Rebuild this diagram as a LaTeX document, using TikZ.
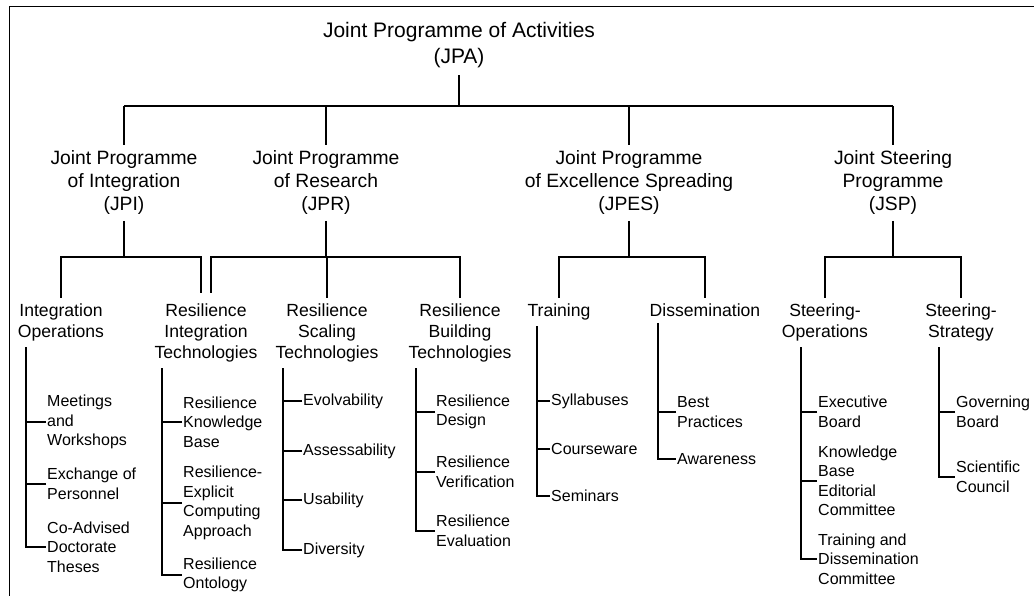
\documentclass[tikz,border=0pt]{standalone}
\usepackage{fontspec}
\setmainfont{Liberation Sans}
\usepackage{tikz}

\tikzset{
  toplabel/.style={align=center, inner sep=0pt, outer ysep=7pt, font=\fontsize{21}{26.5}\selectfont},
  jplabel/.style={align=center, inner sep=0pt, outer ysep=6pt, font=\fontsize{19.3}{23}\selectfont},
  unitlabel/.style={align=center, anchor=north, inner sep=0pt, outer ysep=6pt, font=\fontsize{17.6}{21}\selectfont},
  itemlabel/.style={align=left, anchor=west, inner sep=0pt, inner xsep=1pt, font=\fontsize{16}{19.5}\selectfont},
  link/.style={line width=1.5pt},
  trunk/.style={line width=1.9pt},
}

\begin{document}
\begin{tikzpicture}[x=1pt, y=-1pt]
    \useasboundingbox (0,0) rectangle (1034,596);
    % Frame
    \draw[line width=1.6pt] (9.5,596) -- (9.5,6.5) -- (1034,6.5);

    % Top programme
    \node[toplabel] (jpa) at (459,45) {Joint Programme of Activities\\(JPA)};
    \coordinate (jpabus) at (459,106);

    % Programmes
    \node[jplabel] (jpi) at (124,183) {Joint Programme\\of Integration\\(JPI)};
    \node[jplabel] (jpr) at (326,183) {Joint Programme\\of Research\\(JPR)};
    \node[jplabel] (jpes) at (629,183) {Joint Programme\\of Excellence Spreading\\(JPES)};
    \node[jplabel] (jsp) at (893,183) {Joint Steering\\Programme\\(JSP)};

    % JPA to programmes
    \draw[trunk] (jpa.south) -- (jpabus);
    \draw[link] (jpi.north |- jpabus) -- (jsp.north |- jpabus);
    \draw[link] (jpi.north |- jpabus) -- (jpi.north);
    \draw[link] (jpr.north |- jpabus) -- (jpr.north);
    \draw[link] (jpes.north |- jpabus) -- (jpes.north);
    \draw[link] (jsp.north |- jpabus) -- (jsp.north);

    % Work units
    \node[unitlabel] (io) at (61,298) {Integration\\Operations};
    \node[unitlabel] (rit) at (206,298) {Resilience\\Integration\\Technologies};
    \node[unitlabel] (rst) at (327,298) {Resilience\\Scaling\\Technologies};
    \node[unitlabel] (rbt) at (460,298) {Resilience\\Building\\Technologies};
    \node[unitlabel] (trn) at (559,298) {Training};
    \node[unitlabel] (dis) at (705,298) {Dissemination};
    \node[unitlabel] (sop) at (825,298) {Steering-\\Operations};
    \node[unitlabel] (sst) at (961,298) {Steering-\\Strategy};

    \coordinate (jpibus) at (124,257);
    \coordinate (jprbus) at (326,257);
    \coordinate (jpesbus) at (629,257);
    \coordinate (jspbus) at (893,257);

    % JPI units
    \draw[trunk] (jpi.south) -- (jpibus);
    \draw[link] (io.north) -- (io.north |- jpibus) -- (201,257) -- (201,293);
    % JPR units
    \draw[trunk] (jpr.south) -- (jprbus);
    \draw[link] (211,293) -- (211,257) -- (rbt.north |- jprbus) -- (rbt.north);
    \draw[link] (rst.north |- jprbus) -- (rst.north);
    % JPES units
    \draw[trunk] (jpes.south) -- (jpesbus);
    \draw[link] (trn.north) -- (trn.north |- jpesbus) -- (dis.north |- jpesbus) -- (dis.north);
    % JSP units
    \draw[trunk] (jsp.south) -- (jspbus);
    \draw[link] (sop.north) -- (sop.north |- jspbus) -- (sst.north |- jspbus) -- (sst.north);

    % Integration Operations items
    \node[itemlabel] (meet) at (46,422) {Meetings\\and\\Workshops};
    \node[itemlabel] (exch) at (46,484) {Exchange of\\Personnel};
    \node[itemlabel] (thes) at (46,547) {Co-Advised\\Doctorate\\Theses};
    \draw[trunk] ([xshift=-20pt]thes.west |- io.south) -- ([xshift=-20pt]thes.west) -- (thes.west);
    \draw[link] (meet.west) -- ++(-20,0);
    \draw[link] (exch.west) -- ++(-20,0);

    % Resilience Integration Technologies items
    \node[itemlabel] (rkb) at (182,422) {Resilience\\Knowledge\\Base};
    \node[itemlabel] (rec) at (182,503) {Resilience-\\Explicit\\Computing\\Approach};
    \node[itemlabel] (ront) at (182,575) {Resilience\\Ontology};
    \draw[trunk] ([xshift=-20pt]ront.west |- rit.south) -- ([xshift=-20pt]ront.west) -- (ront.west);
    \draw[link] (rkb.west) -- ++(-20,0);
    \draw[link] (rec.west) -- ++(-20,0);

    % Resilience Scaling Technologies items
    \node[itemlabel] (evo) at (302,401) {Evolvability};
    \node[itemlabel] (ass) at (302,451) {Assessability};
    \node[itemlabel] (usa) at (302,500) {Usability};
    \node[itemlabel] (div) at (302,550) {Diversity};
    \draw[trunk] ([xshift=-19pt]div.west |- rst.south) -- ([xshift=-19pt]div.west) -- (div.west);
    \draw[link] (evo.west) -- ++(-19,0);
    \draw[link] (ass.west) -- ++(-19,0);
    \draw[link] (usa.west) -- ++(-19,0);

    % Resilience Building Technologies items
    \node[itemlabel] (rdes) at (435,412) {Resilience\\Design};
    \node[itemlabel] (rver) at (435,472) {Resilience\\Verification};
    \node[itemlabel] (reva) at (435,531) {Resilience\\Evaluation};
    \draw[trunk] ([xshift=-19pt]reva.west |- rbt.south) -- ([xshift=-19pt]reva.west) -- (reva.west);
    \draw[link] (rdes.west) -- ++(-19,0);
    \draw[link] (rver.west) -- ++(-19,0);

    % Training items
    \node[itemlabel] (syl) at (550,401) {Syllabuses};
    \node[itemlabel] (crs) at (550,449) {Courseware};
    \node[itemlabel] (sem) at (550,496) {Seminars};
    \draw[trunk] ([xshift=-13pt]sem.west |- trn.south) -- ([xshift=-13pt]sem.west) -- (sem.west);
    \draw[link] (syl.west) -- ++(-13,0);
    \draw[link] (crs.west) -- ++(-13,0);

    % Dissemination items
    \node[itemlabel] (bp) at (676,412) {Best\\Practices};
    \node[itemlabel] (awa) at (676,459) {Awareness};
    \draw[trunk] ([xshift=-18pt]awa.west |- dis.south) -- ([xshift=-18pt]awa.west) -- (awa.west);
    \draw[link] (bp.west) -- ++(-18,0);

    % Steering-Operations items
    \node[itemlabel] (exb) at (817,412) {Executive\\Board};
    \node[itemlabel] (kbe) at (817,481) {Knowledge\\Base\\Editorial\\Committee};
    \node[itemlabel] (tdc) at (817,559) {Training and\\Dissemination\\Committee};
    \draw[trunk] ([xshift=-16pt]tdc.west |- sop.south) -- ([xshift=-16pt]tdc.west) -- (tdc.west);
    \draw[link] (exb.west) -- ++(-16,0);
    \draw[link] (kbe.west) -- ++(-16,0);

    % Steering-Strategy items
    \node[itemlabel] (gov) at (955,412) {Governing\\Board};
    \node[itemlabel] (sci) at (955,477) {Scientific\\Council};
    \draw[trunk] ([xshift=-16pt]sci.west |- sst.south) -- ([xshift=-16pt]sci.west) -- (sci.west);
    \draw[link] (gov.west) -- ++(-16,0);
\end{tikzpicture}
\end{document}
